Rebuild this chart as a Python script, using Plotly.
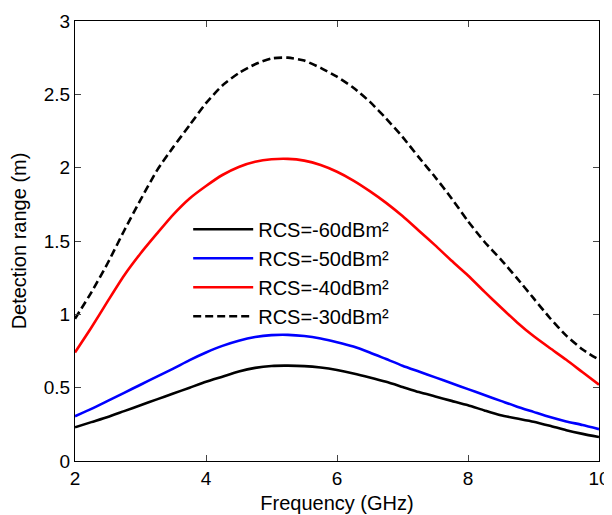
import plotly.graph_objects as go

freq = [2.00, 2.25, 2.50, 2.75, 3.00, 3.25, 3.50, 3.75, 4.00, 4.25, 4.50, 4.75,
        5.00, 5.25, 5.50, 5.75, 6.00, 6.25, 6.50, 6.75, 7.00, 7.25, 7.50, 7.75,
        8.00, 8.25, 8.50, 8.75, 9.00, 9.25, 9.50, 9.75, 10.00]

rcs_m60 = [0.230, 0.265, 0.300, 0.340, 0.380, 0.420, 0.460, 0.500, 0.540, 0.575, 0.610, 0.635,
           0.648, 0.650, 0.647, 0.637, 0.620, 0.597, 0.570, 0.540, 0.505, 0.470, 0.440, 0.410,
           0.380, 0.345, 0.312, 0.290, 0.268, 0.240, 0.210, 0.185, 0.163]
rcs_m50 = [0.305, 0.355, 0.410, 0.465, 0.520, 0.575, 0.630, 0.688, 0.740, 0.785, 0.820, 0.845,
           0.858, 0.860, 0.852, 0.835, 0.810, 0.780, 0.740, 0.695, 0.650, 0.610, 0.570, 0.530,
           0.490, 0.450, 0.410, 0.370, 0.335, 0.300, 0.270, 0.245, 0.217]
rcs_m40 = [0.740, 0.910, 1.090, 1.265, 1.415, 1.550, 1.680, 1.790, 1.875, 1.950, 2.005, 2.040,
           2.057, 2.060, 2.048, 2.018, 1.972, 1.912, 1.840, 1.760, 1.670, 1.570, 1.470, 1.365,
           1.265, 1.155, 1.048, 0.945, 0.852, 0.770, 0.690, 0.605, 0.520]
rcs_m30 = [0.970, 1.150, 1.350, 1.570, 1.780, 1.980, 2.140, 2.290, 2.440, 2.560, 2.645, 2.705,
           2.745, 2.750, 2.730, 2.680, 2.620, 2.545, 2.450, 2.335, 2.210, 2.070, 1.935, 1.790,
           1.635, 1.495, 1.375, 1.245, 1.110, 0.975, 0.855, 0.760, 0.690]

names = ["RCS=-60dBm²", "RCS=-50dBm²", "RCS=-40dBm²", "RCS=-30dBm²"]
series = [rcs_m60, rcs_m50, rcs_m40, rcs_m30]
colors = ["#000000", "#0000ff", "#ff0000", "#000000"]
dashes = ["solid", "solid", "solid", "8px,4px"]

x_ticks = [2, 4, 6, 8, 10]
y_ticks = [0, 0.5, 1, 1.5, 2, 2.5, 3]
y_tick_text = ["0", "0.5", "1", "1.5", "2", "2.5", "3"]

fig = go.Figure()
for i, (nm, ys, c, d) in enumerate(zip(names, series, colors, dashes)):
    fig.add_trace(go.Scatter(
        x=freq, y=ys, mode="lines", name=nm, legendgroup=f"g{i}",
        line=dict(color=c, width=2.6, dash=d, shape="spline", smoothing=0.6),
    ))

font_family = "Liberation Sans, Arial, sans-serif"

# page body adds an 8px offset, so the figure is sized to fit the 612x515 window
fig.update_layout(
    width=604, height=507,
    margin=dict(l=67, r=13, t=13, b=54),
    paper_bgcolor="white", plot_bgcolor="white",
    font=dict(family=font_family, color="black", size=19),
    showlegend=True,
    legend=dict(
        x=0.216, y=0.571, xanchor="left", yanchor="top",
        bgcolor="rgba(0,0,0,0)", borderwidth=0,
        font=dict(size=20, family=font_family, color="black"),
        tracegroupgap=0, itemwidth=60,
    ),
    xaxis=dict(
        range=[2, 10], tickvals=x_ticks, ticks="inside", ticklen=6,
        showline=True, linecolor="black", linewidth=1, mirror="ticks",
        showgrid=False, zeroline=False, automargin=False,
        tickfont=dict(size=19),
        title=dict(text="Frequency (GHz)", font=dict(size=20), standoff=8),
    ),
    yaxis=dict(
        range=[0, 3], tickvals=y_ticks, ticktext=y_tick_text, ticks="inside", ticklen=6,
        showline=True, linecolor="black", linewidth=1, mirror="ticks",
        showgrid=False, zeroline=False, automargin=False,
        tickfont=dict(size=19),
        title=dict(text="Detection range (m)", font=dict(size=20), standoff=11),
    ),
)

fig.write_html("out.html")
